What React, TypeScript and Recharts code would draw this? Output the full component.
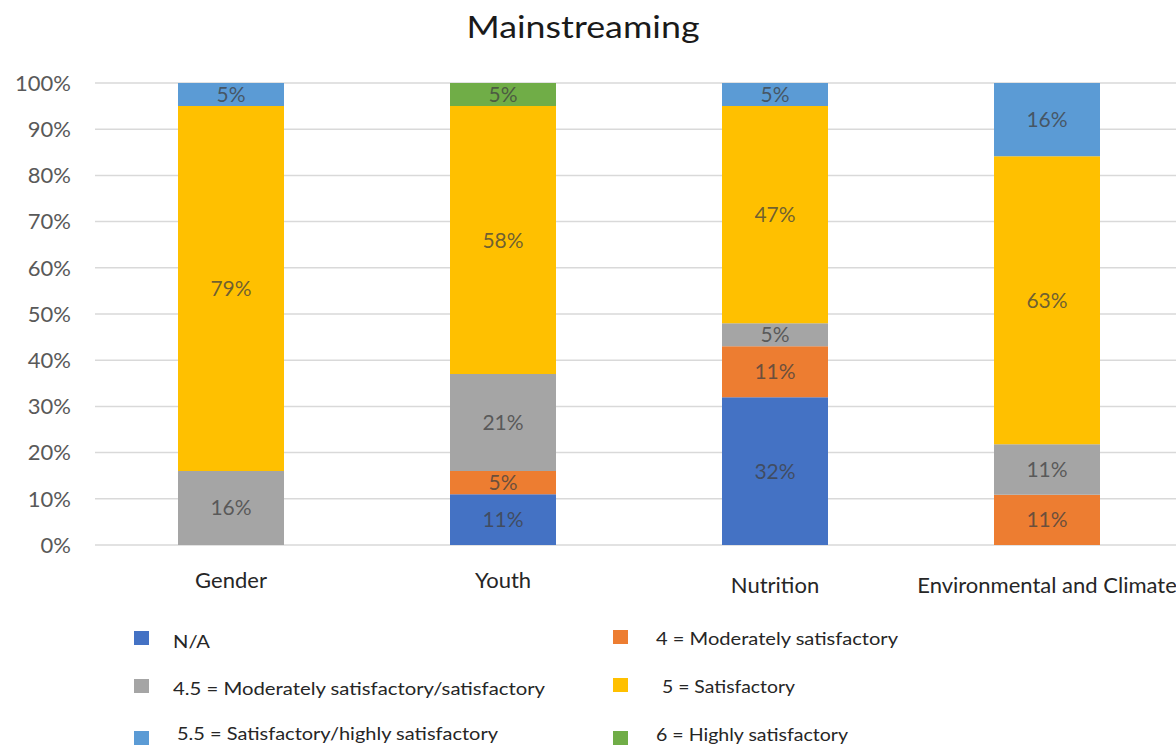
import React from 'react';
import { BarChart, Bar, XAxis, YAxis, CartesianGrid, LabelList } from 'recharts';

// Ratings per mainstreaming theme, in percent of projects (bottom to top of each stack)
const CATEGORIES = ['Gender', 'Youth', 'Nutrition', 'Environmental and Climate'];
const NOT_APPLICABLE = [0, 11, 32, 0];
const MODERATE = [0, 5, 11, 11];
const MODERATE_SAT = [16, 21, 5, 11];
const SATISFACTORY = [79, 58, 47, 63];
const SAT_HIGH = [5, 0, 5, 16];
const HIGHLY = [0, 5, 0, 0];
const Y_TICKS = [0, 0.1, 0.2, 0.3, 0.4, 0.5, 0.6, 0.7, 0.8, 0.9, 1];

const SERIES = [
  { key: 'na', name: 'N/A', color: '#4472C4', values: NOT_APPLICABLE },
  { key: 'mod', name: '4 = Moderately satisfactory', color: '#ED7D31', values: MODERATE },
  { key: 'modSat', name: '4.5 = Moderately satisfactory/satisfactory', color: '#A5A5A5', values: MODERATE_SAT },
  { key: 'sat', name: '5 = Satisfactory', color: '#FFC000', values: SATISFACTORY },
  { key: 'satHigh', name: '5.5 = Satisfactory/highly satisfactory', color: '#5B9BD5', values: SAT_HIGH },
  { key: 'high', name: '6 = Highly satisfactory', color: '#70AD47', values: HIGHLY },
];

const data = CATEGORIES.map((name, i) => {
  const row: Record<string, string | number> = { name };
  SERIES.forEach(s => { row[s.key] = s.values[i]; });
  return row;
});

const FONT = 'Lato, "Open Sans", sans-serif';
const PLOT_BOTTOM = 545;

// hand-placed legend, two columns
const LEGEND = [
  { key: 'na', box: [134, 631], text: [173, 648], width: 37 },
  { key: 'modSat', box: [134, 679], text: [173, 695], width: 372 },
  { key: 'satHigh', box: [134, 731], text: [177, 740], width: 321 },
  { key: 'mod', box: [613, 630], text: [656, 645], width: 242 },
  { key: 'sat', box: [613, 678], text: [662, 693], width: 133 },
  { key: 'high', box: [613, 731], text: [656, 741], width: 192 },
];

const CategoryTick = (props: any) => {
  const { x, payload, index } = props;
  const dy = index >= 2 ? 48 : 43;
  return (
    <text x={x} y={PLOT_BOTTOM + dy} textAnchor="middle" fill="#262626" fontSize={22} fontFamily={FONT}>
      {payload.value}
    </text>
  );
};

const pct = (v: any) => (v ? `${v}%` : '');

export default function App() {
  return (
    <div style={{ position: 'absolute', left: 0, top: 0, width: 1176, height: 745, overflow: 'hidden', background: '#fff' }}>
      <BarChart
        width={1190}
        height={610}
        data={data}
        stackOffset="expand"
        margin={{ top: 83, right: 7, left: 0, bottom: 5 }}
        barSize={106}
      >
        <CartesianGrid vertical={false} stroke="#d9d9d9" strokeWidth={1.5} />
        <XAxis dataKey="name" axisLine={false} tickLine={false} height={60} interval={0} tick={<CategoryTick />} />
        <YAxis
          width={95}
          domain={[0, 1]}
          ticks={Y_TICKS}
          axisLine={false}
          tickLine={false}
          tickSize={0}
          tickMargin={24}
          tickFormatter={(v: number) => `${Math.round(v * 100)}%`}
          tick={{ fill: '#595959', fontSize: 22, fontFamily: FONT }}
        />
        {SERIES.map(s => (
          <Bar key={s.key} dataKey={s.key} name={s.name} stackId="a" fill={s.color} isAnimationActive={false}>
            <LabelList
              dataKey={s.key}
              position="center"
              formatter={pct}
              fill="#404040"
              fillOpacity={0.75}
              fontSize={21}
              fontFamily={FONT}
            />
          </Bar>
        ))}
      </BarChart>
      <svg width={1176} height={745} style={{ position: 'absolute', left: 0, top: 0, pointerEvents: 'none' }}>
        <text x={583} y={38} textAnchor="middle" fontSize={31} fill="#1a1a1a" fontFamily={FONT} textLength={233} lengthAdjust="spacingAndGlyphs">
          Mainstreaming
        </text>
        {LEGEND.map(l => {
          const s = SERIES.find(d => d.key === l.key)!;
          return (
            <g key={l.key}>
              <rect x={l.box[0]} y={l.box[1]} width={15} height={14} fill={s.color} />
              <text x={l.text[0]} y={l.text[1]} fontSize={17} fill="#262626" fontFamily={FONT} textLength={l.width} lengthAdjust="spacingAndGlyphs">
                {s.name}
              </text>
            </g>
          );
        })}
      </svg>
    </div>
  );
}
